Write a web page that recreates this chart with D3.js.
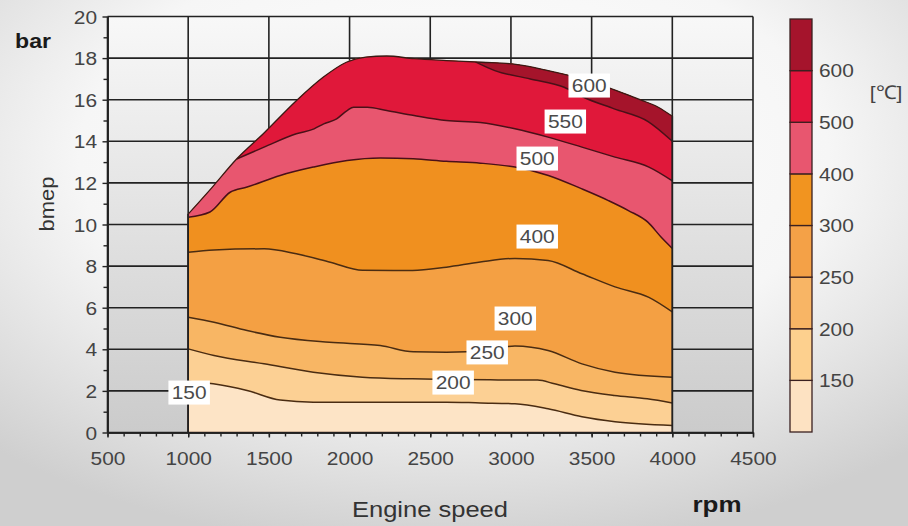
<!DOCTYPE html>
<html>
<head>
<meta charset="utf-8">
<script src="https://cdn.jsdelivr.net/npm/d3@7"></script>
<style>
  html, body { margin: 0; padding: 0; background: #fff; }
  svg { display: block; }
</style>
</head>
<body>
<svg id="chart" width="908" height="526"></svg>
<script>
// Full-load curve (bmep limit) over engine speed, [rpm, bar]
const fullLoad = [[1000,10.5],[1150,11.8],[1300,13.15],[1470,14.4],[1670,15.95],[1840,17.1],[1980,17.8],[2100,18.05],[2230,18.1],[2400,17.97],[2600,17.88],[2820,17.8],[3030,17.7],[3230,17.4],[3440,17.0],[3650,16.45],[3800,16.0],[3910,15.65],[4000,15.2]];

// Exhaust temperature iso-lines, [rpm, bar]
const iso150 = [[1000,2.45],[1155,2.34],[1365,2.02],[1570,1.56],[1775,1.46],[2190,1.46],[2600,1.46],[2810,1.42],[3025,1.38],[3230,1.14],[3440,0.76],[3645,0.52],[4000,0.34]];
const iso200 = [[1000,4.02],[1160,3.7],[1470,3.3],[1775,2.9],[2080,2.66],[2390,2.58],[2640,2.55],[2920,2.53],[3165,2.52],[3270,2.34],[3435,2.02],[3640,1.78],[3845,1.62],[4000,1.42]];
const iso250 = [[1000,5.54],[1160,5.3],[1365,4.9],[1570,4.58],[1875,4.34],[2190,4.18],[2395,3.88],[2600,3.86],[2850,3.96],[3025,4.16],[3230,3.94],[3440,3.3],[3645,2.9],[4000,2.66]];
const iso400 = [[1000,8.67],[1160,8.78],[1470,8.83],[1670,8.59],[1880,8.19],[2080,7.8],[2390,7.79],[2600,7.95],[2810,8.2],[3025,8.37],[3230,8.27],[3440,7.63],[3645,7.0],[3855,6.5],[4000,5.8]];
const iso500 = [[1000,10.35],[1135,10.6],[1260,11.55],[1365,11.8],[1570,12.36],[1775,12.76],[1985,13.08],[2190,13.2],[2395,13.16],[2600,13.04],[2810,12.95],[3025,12.76],[3232,12.36],[3440,11.71],[3604,11.15],[3728,10.67],[3850,10.1],[3930,9.4],[4000,8.85]];
const iso550 = [[1300,13.15],[1470,13.72],[1670,14.36],[1780,14.6],[1840,14.84],[1920,15.08],[1985,15.48],[2025,15.64],[2110,15.64],[2230,15.48],[2400,15.24],[2600,15.0],[2810,14.9],[3025,14.6],[3230,14.2],[3440,13.72],[3645,13.24],[3855,12.76],[4000,12.1]];
const iso600 = [[2780,17.82],[2900,17.4],[3120,17.0],[3330,16.6],[3450,16.12],[3640,15.56],[3850,14.95],[4000,14.0]];

const isoLines = [iso150, iso200, iso250, iso400, iso500, iso550, iso600];
// fill below the first line, then one fill above each line
const bandColors = ["#fde4c6", "#fcd094", "#f8b664", "#f4a043", "#f0901f", "#e8566f", "#e0183a", "#a5142b"];

// Iso-line labels at [rpm, bar]
const labelText = ["600", "550", "500", "400", "300", "250", "200", "150"];
const labelAt = [[3485,16.68],[3337,14.95],[3163,13.17],[3163,9.42],[3027,5.48],[2853,3.85],[2642,2.4],[1006,1.92]];

// Colour bar
const legendBreaks = ["150", "200", "250", "300", "400", "500", "600"];
const legendColors = ["#fde2c2", "#fdd08e", "#f8b565", "#f4a147", "#f19420", "#e8566f", "#e3143c", "#a5142c"];

const xTickValues = d3.range(500, 4501, 500);
const yTickValues = d3.range(0, 21, 2);

const svg = d3.select("#chart");
const defs = svg.append("defs");
const FONT = "Arial, 'Liberation Sans', Helvetica, sans-serif";
const SX = 1.1; // horizontal stretch of lettering

// page background
const pg = defs.append("radialGradient").attr("id", "pageBg")
  .attr("cx", "50%").attr("cy", "30%").attr("r", "75%");
pg.append("stop").attr("offset", "0%").attr("stop-color", "#ffffff");
pg.append("stop").attr("offset", "55%").attr("stop-color", "#f6f6f6");
pg.append("stop").attr("offset", "100%").attr("stop-color", "#cfcfcf");
svg.append("rect").attr("width", 908).attr("height", 526).attr("fill", "url(#pageBg)");

const x = d3.scaleLinear().domain([500, 4500]).range([107.5, 753]);
const y = d3.scaleLinear().domain([0, 20]).range([432.5, 16.5]);

// plot background
const plotBg = defs.append("linearGradient").attr("id", "plotBg")
  .attr("x1", 0).attr("y1", 0).attr("x2", 0).attr("y2", 1);
plotBg.append("stop").attr("offset", "0%").attr("stop-color", "#f8f8f8");
plotBg.append("stop").attr("offset", "100%").attr("stop-color", "#cbcbcb");
svg.append("rect")
  .attr("x", x(500)).attr("y", y(20))
  .attr("width", x(4500) - x(500)).attr("height", y(0) - y(20))
  .attr("fill", "url(#plotBg)");

// grid
const grid = svg.append("g").attr("stroke", "#222").attr("stroke-width", 1.6);
grid.selectAll("line.v").data(xTickValues).join("line").attr("class", "v")
  .attr("x1", d => x(d)).attr("x2", d => x(d)).attr("y1", y(0)).attr("y2", y(20));
grid.selectAll("line.h").data(yTickValues).join("line").attr("class", "h")
  .attr("x1", x(500)).attr("x2", x(4500)).attr("y1", d => y(d)).attr("y2", d => y(d));

const curve = d3.curveMonotoneX;
const envArea = d3.area().curve(curve)
  .x(d => x(d[0])).y0(y(0)).y1(d => y(d[1]));

defs.append("clipPath").attr("id", "envClip")
  .append("path").attr("d", envArea(fullLoad));

const map = svg.append("g").attr("clip-path", "url(#envClip)");
map.append("path").attr("d", envArea(fullLoad)).attr("fill", bandColors[0]);

const upperArea = d3.area().curve(curve)
  .x(d => x(d[0])).y0(d => y(d[1])).y1(y(20));
const isoLine = d3.line().curve(curve).x(d => x(d[0])).y(d => y(d[1]));

map.selectAll("path.band").data(isoLines).join("path").attr("class", "band")
  .attr("d", d => upperArea(d))
  .attr("fill", (d, i) => bandColors[i + 1]);

map.selectAll("path.iso").data(isoLines).join("path").attr("class", "iso")
  .attr("d", d => isoLine(d))
  .attr("fill", "none")
  .attr("stroke", (d, i) => i >= 4 ? "#4a1018" : "#4a2c12")
  .attr("stroke-width", 1.5);

// outline of the operating range
svg.append("path").attr("d", envArea(fullLoad))
  .attr("fill", "none").attr("stroke", "#3a1a14").attr("stroke-width", 1.3);
svg.append("line").attr("x1", x(1000)).attr("x2", x(1000)).attr("y1", y(0)).attr("y2", y(10.5))
  .attr("stroke", "#222").attr("stroke-width", 1.6);
svg.append("line").attr("x1", x(4000)).attr("x2", x(4000)).attr("y1", y(0)).attr("y2", y(15.2))
  .attr("stroke", "#222").attr("stroke-width", 1.6);

// iso-line labels
const labels = svg.append("g");
labelText.forEach((t, i) => {
  const g = labels.append("g")
    .attr("transform", `translate(${x(labelAt[i][0])},${y(labelAt[i][1])}) scale(${SX},1)`);
  const rect = g.append("rect").attr("fill", "#fff");
  const txt = g.append("text").text(t)
    .attr("text-anchor", "middle").attr("dy", "0.36em")
    .attr("font-family", FONT).attr("font-size", 19).attr("fill", "#4a4a4a");
  const b = txt.node().getBBox();
  rect.attr("x", b.x - 3).attr("y", -12).attr("width", b.width + 6).attr("height", 24);
});

// axes
const xAxis = svg.append("g").attr("transform", `translate(0,${y(0)})`)
  .call(d3.axisBottom(x).tickValues(xTickValues).tickFormat(d3.format("d")).tickSize(5).tickSizeOuter(0));
const xMinor = svg.append("g").attr("transform", `translate(0,${y(0)})`)
  .call(d3.axisBottom(x).tickValues(d3.range(500, 4501, 100)).tickSize(4).tickFormat("").tickSizeOuter(0));
const yAxis = svg.append("g").attr("transform", `translate(${x(500)},0)`)
  .call(d3.axisLeft(y).tickValues(yTickValues).tickFormat(d3.format("d")).tickSize(5).tickSizeOuter(0));
const yMinor = svg.append("g").attr("transform", `translate(${x(500)},0)`)
  .call(d3.axisLeft(y).tickValues(d3.range(1, 20, 2)).tickSize(4).tickFormat("").tickSizeOuter(0));

[xAxis, xMinor, yAxis, yMinor].forEach(a => {
  a.select(".domain").attr("stroke", "#222").attr("stroke-width", 1.6);
  a.selectAll(".tick line").attr("stroke", "#222").attr("stroke-width", 1.4);
});
xAxis.selectAll(".tick text")
  .attr("font-family", FONT).attr("font-size", 19).attr("fill", "#444")
  .attr("y", 0).attr("dy", "1.72em")
  .attr("transform", `scale(${SX},1)`);
yAxis.selectAll(".tick text")
  .attr("font-family", FONT).attr("font-size", 19).attr("fill", "#444")
  .attr("x", -9.5).attr("dy", "0.35em")
  .attr("transform", `scale(${SX},1)`);

function label(px, py, str, opts) {
  const g = svg.append("g").attr("transform", `translate(${px},${py})${opts.rotate ? " rotate(-90)" : ""} scale(${opts.sx || SX},1)`);
  g.append("text").text(str)
    .attr("text-anchor", opts.anchor || "middle")
    .attr("font-family", FONT).attr("font-size", opts.size || 20)
    .attr("font-weight", opts.bold ? "bold" : "normal")
    .attr("fill", opts.fill || "#333");
}

label(33, 48, "bar", {bold: true, size: 21, fill: "#1a1a1a"});
label(54, 204, "bmep", {rotate: true, size: 20, fill: "#333"});
label(430, 517, "Engine speed", {size: 22, sx: 1.16, fill: "#333"});
label(717, 512, "rpm", {bold: true, size: 22, sx: 1.18, fill: "#1a1a1a"});

// colour bar
const cb = d3.scaleLinear().domain([0, legendColors.length]).range([432, 19]);
const cbar = svg.append("g");
cbar.selectAll("rect").data(legendColors).join("rect")
  .attr("x", 790).attr("width", 22)
  .attr("y", (d, i) => cb(i + 1)).attr("height", (d, i) => cb(i) - cb(i + 1))
  .attr("fill", d => d)
  .attr("stroke", "#3a2020").attr("stroke-width", 1.3);
legendBreaks.forEach((t, i) => {
  const g = cbar.append("g").attr("transform", `translate(819,${cb(i + 1)}) scale(${SX},1)`);
  g.append("text").text(t).attr("dy", "0.36em")
    .attr("font-family", FONT).attr("font-size", 19).attr("fill", "#444");
});
label(886, 99, "[℃]", {size: 19, fill: "#444"});
</script>
</body>
</html>
